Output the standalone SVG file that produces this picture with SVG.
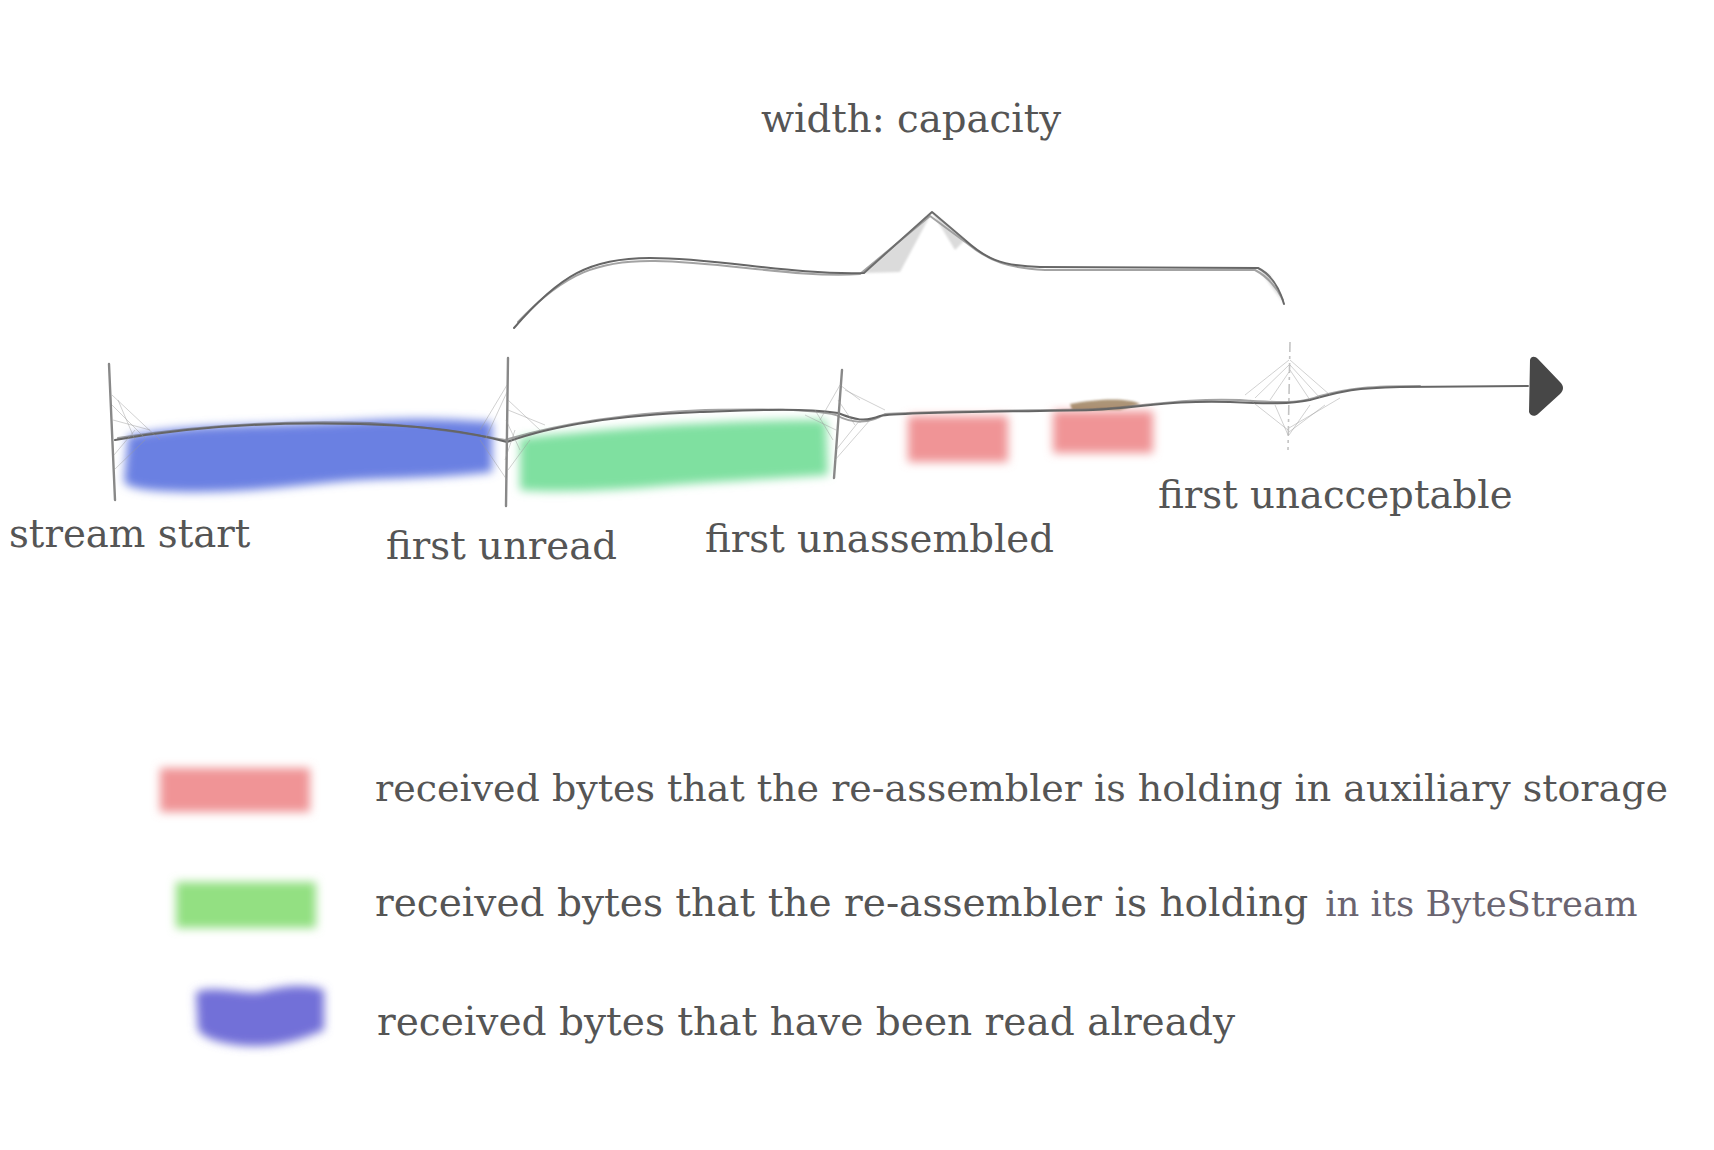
<svg xmlns="http://www.w3.org/2000/svg" width="1714" height="1150" viewBox="0 0 1714 1150">
<defs>
<style>
text{font-family:"DejaVu Serif","Liberation Serif",serif;font-size:38.7px;fill:#555555}
.leg1{font-size:38px}
.leg2{font-size:39.1px}
.bs{font-size:35.4px;fill:#6a6470}
.sk{fill:none;stroke:#666;stroke-width:2;stroke-linecap:round;stroke-linejoin:round}
.fan{fill:none;stroke:#999;stroke-width:1;opacity:0.45}
.tick{fill:none;stroke:#888;stroke-width:2.4;stroke-linecap:round}
</style>
<filter id="blur" x="-20%" y="-40%" width="140%" height="180%"><feGaussianBlur stdDeviation="5"/></filter>
<filter id="blur2" x="-20%" y="-40%" width="140%" height="180%"><feGaussianBlur stdDeviation="1.2"/></filter>
</defs>
<rect width="1714" height="1150" fill="#ffffff"/>

<g id="title"><text x="761" y="132">width: capacity</text></g>

<g id="brace">
<path class="sk" d="M514,328 C560,275 590,258 650,258 C720,258 790,275 864,273 L932,212 L965,240 C985,258 1000,266 1040,267 L1258,268 C1272,275 1280,290 1284,304" stroke-width="2.6"/>
<path class="sk" d="M518,322 C565,272 600,260 655,261 C725,262 795,278 860,274 L930,216 L968,244 C990,262 1010,268 1045,270 L1255,270 C1270,278 1279,292 1283,300" stroke="#aaa" stroke-width="1.4" opacity="0.6"/>
<path d="M864,273 L932,212 L900,272 Z M932,212 L965,240 L955,250 Z" fill="#999" opacity="0.35" filter="url(#blur2)"/>
<path d="M1258,268 L1284,304 L1270,275 Z" fill="#999" opacity="0.35" filter="url(#blur2)"/>
</g>

<g id="segments">
<path id="blue-bar" d="M128,436 C180,424 260,426 340,422 C400,418 440,418 492,422 L492,472 C440,478 400,478 360,480 C300,484 260,492 200,492 C160,492 130,490 124,482 Z" fill="#6a80e2" filter="url(#blur)"/>
<path id="green-bar" d="M520,438 C600,430 700,420 826,420 L828,475 C760,480 700,482 640,488 C580,492 540,492 520,490 Z" fill="#7fe0a0" filter="url(#blur)"/>
<rect id="red-bar-1" x="908" y="416" width="100" height="46" fill="#f09496" filter="url(#blur)"/>
<rect id="red-bar-2" x="1053" y="411" width="100" height="42" fill="#f09496" filter="url(#blur)"/>
<path d="M1070,404 C1100,398 1130,398 1140,404 L1120,410 L1072,410 Z" fill="#8a6a40" opacity="0.7" filter="url(#blur2)"/>
</g>

<g id="connectors">
<path id="axis" class="sk" d="M115,440 C200,425 290,422 360,424 C430,426 470,432 507,442 C540,430 600,416 700,412 C760,410 800,408 838,413 C855,420 865,422 880,416 C900,412 1000,412 1093,410 C1140,408 1170,400 1230,402 C1270,404 1290,404 1310,400 C1340,392 1350,388 1400,387 L1528,386" stroke="#777"/>
<path class="sk" d="M118,438 C210,423 300,421 370,423 C440,427 480,436 505,440 C545,428 610,414 705,410 C770,409 810,409 836,415 C852,424 870,424 885,414 C950,410 1040,411 1095,409 C1150,406 1180,398 1240,400 C1290,404 1305,402 1320,396 C1350,388 1370,386 1420,386" stroke="#aaa" stroke-width="1.2" opacity="0.6"/>
<path id="arrowhead" d="M1530,360 C1531,356 1535,356 1538,359 L1560,382 C1564,386 1564,390 1560,394 L1538,414 C1535,417 1530,416 1529,412 Z" fill="#474747"/>
</g>

<g id="tick-stream-start">
<path class="tick" d="M109,364 L115,500"/>
<path class="fan" d="M112,395 L160,440 M112,405 L145,438 M113,420 L150,430 M114,455 L135,430 M114,470 L145,440 M118,400 L135,440"/>
</g>
<g id="tick-first-unread">
<path class="tick" d="M508,358 L506,506"/>
<path class="fan" d="M507,385 L480,430 M507,392 L485,440 M507,480 L480,440 M508,400 L540,430 M508,410 L545,425 M508,470 L530,440 M506,420 L520,450 M505,460 L515,430"/>
</g>
<g id="tick-first-unassembled">
<path class="tick" d="M842,370 L834,478" stroke-width="2"/>
<path class="fan" d="M840,385 L820,420 M840,385 L860,400 M845,390 L885,410 M838,400 L855,425 M836,450 L860,420 M835,460 L870,420 M833,440 L815,410 M836,430 L805,415"/>
</g>
<g id="tick-first-unacceptable">
<path d="M1290,342 L1288,450" fill="none" stroke="#aaa" stroke-width="1.6" stroke-dasharray="10 4 3 4" opacity="0.7"/>
<path class="fan" d="M1289,360 L1245,395 M1289,365 L1255,398 M1290,360 L1330,395 M1290,365 L1320,398 M1290,370 L1310,400 M1289,372 L1270,400 M1288,430 L1250,400 M1288,435 L1275,405 M1289,435 L1310,405 M1289,432 L1325,405 M1289,428 L1340,398"/>
</g>

<g id="label-stream-start"><text x="9" y="547">stream start</text></g>
<g id="label-first-unread"><text x="386" y="559">first unread</text></g>
<g id="label-first-unassembled"><text x="705" y="552">first unassembled</text></g>
<g id="label-first-unacceptable"><text x="1158" y="508">first unacceptable</text></g>

<g id="legend-red">
<rect x="160" y="768" width="150" height="44" fill="#f09496" filter="url(#blur)"/>
<text class="leg1" x="375" y="801">received bytes that the re-assembler is holding in auxiliary storage</text>
</g>
<g id="legend-green">
<rect x="176" y="882" width="140" height="46" fill="#93e082" filter="url(#blur)"/>
<text class="leg2" x="375" y="916">received bytes that the re-assembler is holding&#160; <tspan class="bs" dx="-8">in its ByteStream</tspan></text>
</g>
<g id="legend-blue">
<path d="M196,992 C215,985 240,994 260,992 C290,984 310,985 324,990 L324,1030 C300,1040 280,1046 256,1046 C230,1046 205,1040 198,1030 Z" fill="#7270d8" filter="url(#blur)"/>
<text class="leg2" x="377" y="1035">received bytes that have been read already</text>
</g>
</svg>
